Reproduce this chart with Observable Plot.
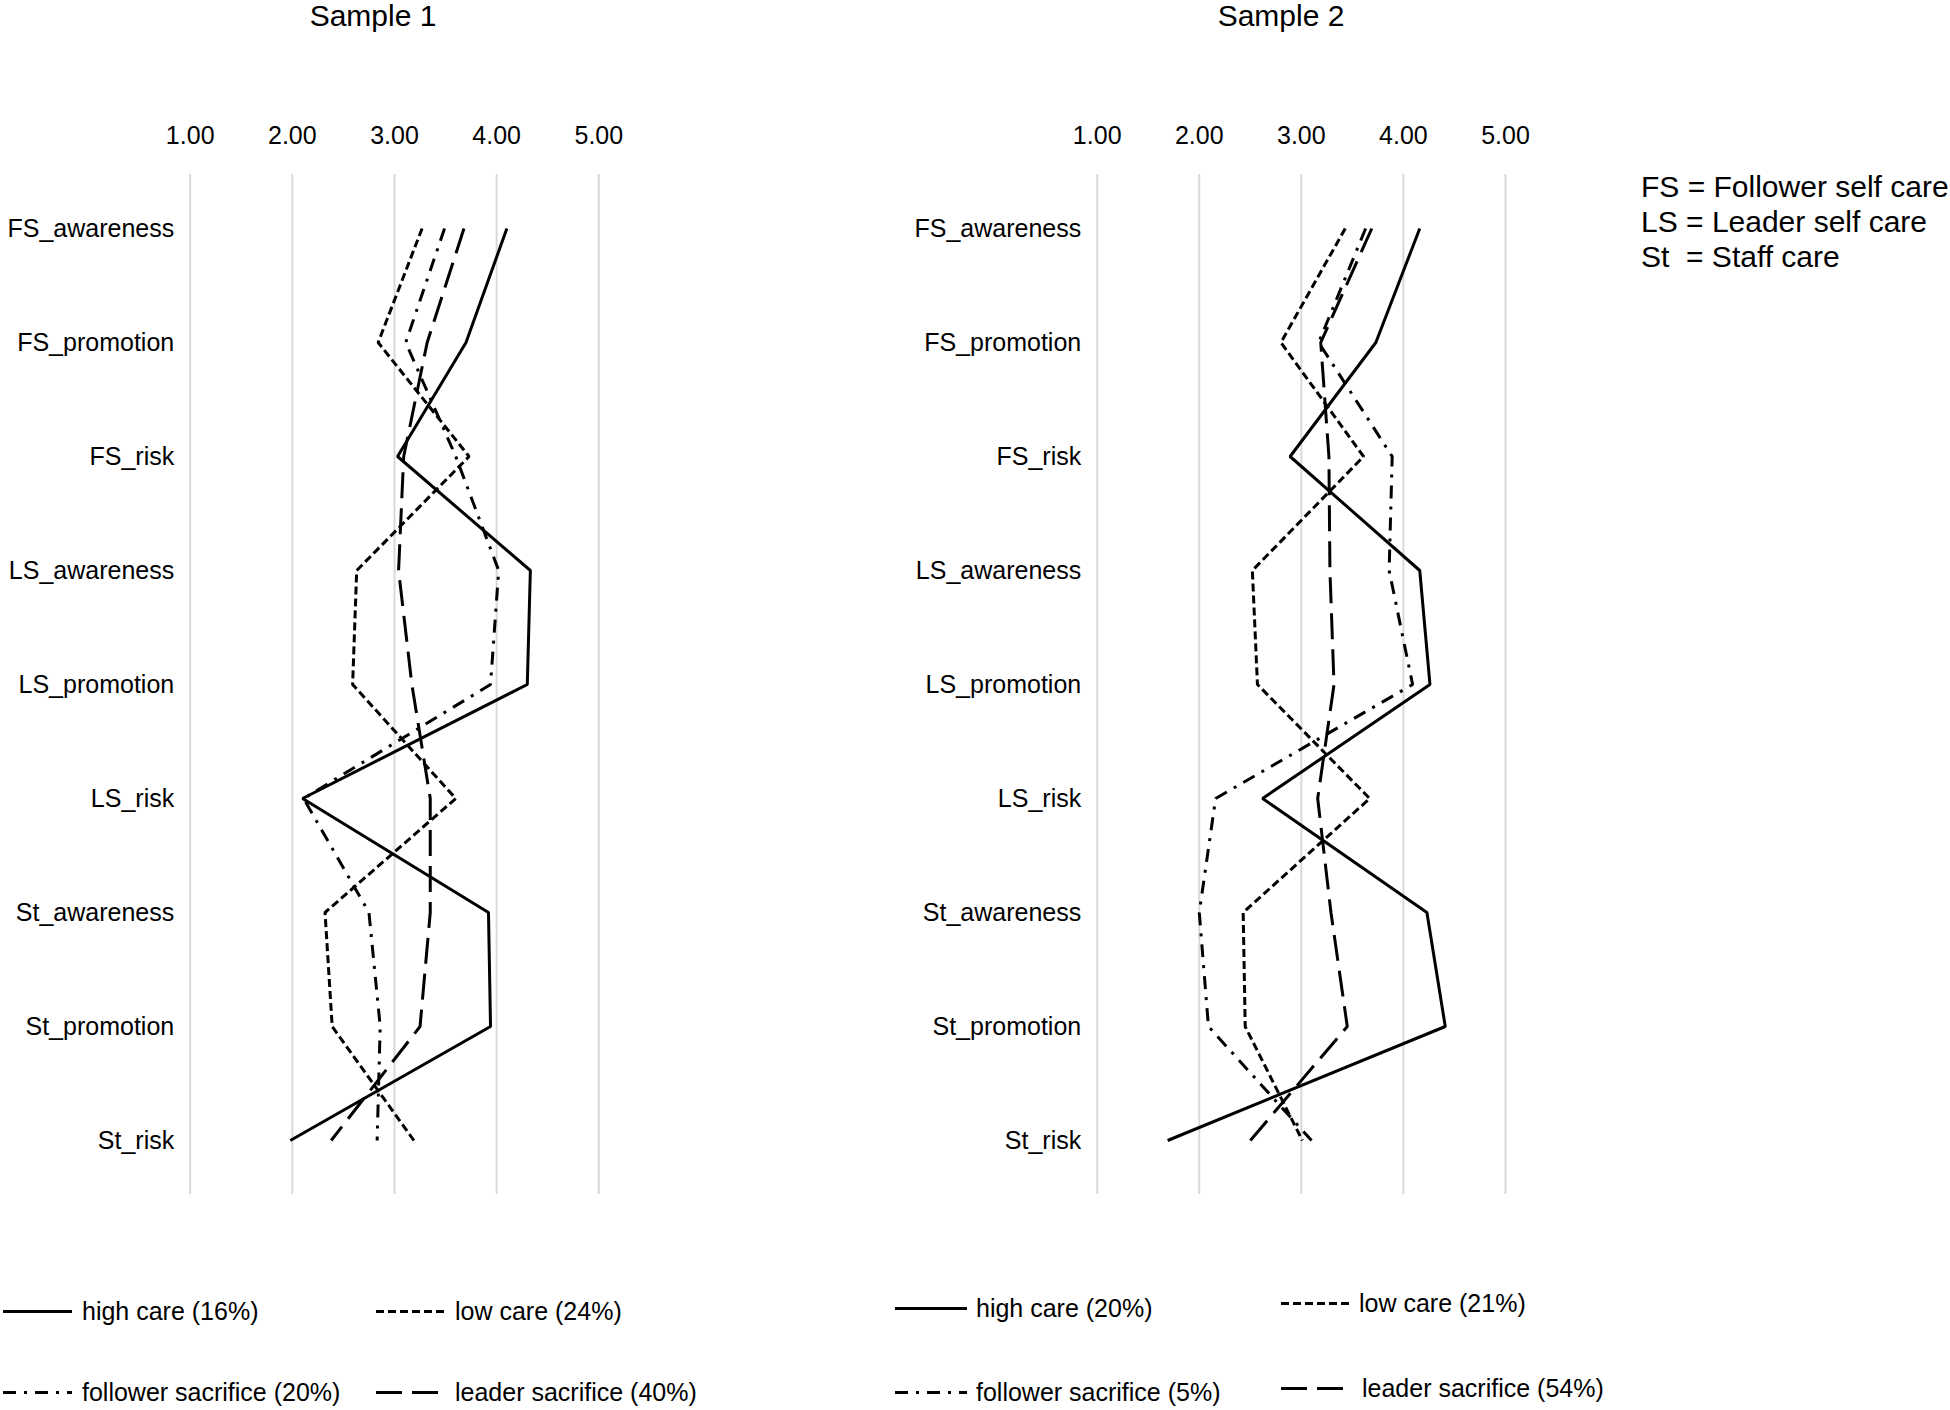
<!DOCTYPE html>
<html>
<head>
<meta charset="utf-8">
<script src="https://cdn.jsdelivr.net/npm/d3@7"></script>
<script src="https://cdn.jsdelivr.net/npm/@observablehq/plot@0.6"></script>
<style>
  body { margin: 0; background: #fff; font-family: "Liberation Sans", Arial, sans-serif; color: #000; }
  #root { position: relative; width: 1950px; height: 1410px; overflow: hidden; background: #fff; }
  .panel { position: absolute; top: 0; }
  .title { position: absolute; font-size: 30px; transform: translate(-50%, -50%); white-space: nowrap; }
  .leg { position: absolute; display: flex; align-items: center; font-size: 25px; white-space: nowrap; transform: translateY(-50%); }
  .leg svg { display: block; }
  .note { position: absolute; left: 1641px; top: 170px; font-size: 30px; line-height: 34.8px; white-space: pre; }
</style>
</head>
<body>
<div id="root"></div>
<script>
// ---------- data ----------
const categories = ["FS_awareness", "FS_promotion", "FS_risk", "LS_awareness", "LS_promotion", "LS_risk", "St_awareness", "St_promotion", "St_risk"];
const xTicks = [1, 2, 3, 4, 5];

const s1HighCare          = [4.10, 3.70, 3.03, 4.33, 4.30, 2.10, 3.92, 3.94, 1.98];
const s1LowCare           = [3.27, 2.84, 3.73, 2.63, 2.59, 3.60, 2.32, 2.39, 3.19];
const s1FollowerSacrifice = [3.49, 3.11, 3.60, 4.02, 3.94, 2.11, 2.75, 2.86, 2.83];
const s1LeaderSacrifice   = [3.68, 3.32, 3.09, 3.04, 3.17, 3.35, 3.35, 3.25, 2.38];

const s2HighCare          = [4.16, 3.73, 2.89, 4.16, 4.26, 2.62, 4.23, 4.41, 1.69];
const s2LowCare           = [3.43, 2.80, 3.61, 2.52, 2.57, 3.67, 2.43, 2.45, 3.01];
const s2FollowerSacrifice = [3.63, 3.17, 3.89, 3.86, 4.09, 2.16, 2.00, 2.09, 3.10];
const s2LeaderSacrifice   = [3.69, 3.19, 3.27, 3.28, 3.32, 3.16, 3.29, 3.45, 2.50];

const panelTitles = ["Sample 1", "Sample 2"];
const legend1 = ["high care (16%)", "low care (24%)", "follower sacrifice (20%)", "leader sacrifice (40%)"];
const legend2 = ["high care (20%)", "low care (21%)", "follower sacrifice (5%)", "leader sacrifice (54%)"];
const noteLines = ["FS = Follower self care", "LS = Leader self care", "St  = Staff care"];

// ---------- styles ----------
const dashes = [null, "8,4", "13,8,3,8", "26,10"];

const root = document.getElementById("root");

function makePanel(seriesValues, width, marginLeft, marginRight) {
  const marks = [
    Plot.ruleX(xTicks, {stroke: "#d9d9d9", strokeWidth: 2}),
    Plot.axisX(xTicks, {anchor: "top", tickSize: 0, tickPadding: 30.5, tickFormat: d3.format(".2f"), fontSize: 25, label: null}),
    Plot.axisY({anchor: "left", tickSize: 0, tickPadding: 16, fontSize: 25, label: null})
  ];
  seriesValues.forEach((vals, k) => {
    const data = categories.map((c, i) => ({cat: c, v: vals[i]}));
    const o = {x: "v", y: "cat", stroke: "#000", strokeWidth: 3, strokeLinecap: "butt", strokeLinejoin: "miter"};
    if (dashes[k]) o.strokeDasharray = dashes[k];
    marks.push(Plot.line(data, o));
  });
  return Plot.plot({
    width, height: 1210,
    marginLeft, marginRight, marginTop: 174, marginBottom: 16,
    x: {domain: [1, 5]},
    y: {type: "point", domain: categories, padding: 0.47},
    style: {fontFamily: "Liberation Sans, Arial, sans-serif", fontSize: "25px", color: "#000", background: "transparent", overflow: "visible"},
    marks
  });
}

const p1 = makePanel([s1HighCare, s1LowCare, s1FollowerSacrifice, s1LeaderSacrifice], 640, 189.7, 41.7);
p1.classList.add("panel"); p1.style.left = "0px";
root.appendChild(p1);

const p2 = makePanel([s2HighCare, s2LowCare, s2FollowerSacrifice, s2LeaderSacrifice], 700, 216.7, 75);
p2.classList.add("panel"); p2.style.left = "880px";
root.appendChild(p2);

// titles
[[panelTitles[0], 373], [panelTitles[1], 1281]].forEach(([t, x]) => {
  const d = document.createElement("div");
  d.className = "title"; d.textContent = t;
  d.style.left = x + "px"; d.style.top = "16px";
  root.appendChild(d);
});

// notes
const note = document.createElement("div");
note.className = "note"; note.textContent = noteLines.join("\n");
root.appendChild(note);

// legends
function legendItem(label, dashIdx, x0, x1, textX, y) {
  const d = document.createElement("div");
  d.className = "leg";
  d.style.left = x0 + "px"; d.style.top = y + "px";
  const w = x1 - x0;
  const svg = d3.create("svg").attr("width", w).attr("height", 10);
  const ln = svg.append("line").attr("x1", 0).attr("x2", w).attr("y1", 5).attr("y2", 5)
    .attr("stroke", "#000").attr("stroke-width", 3);
  if (dashes[dashIdx]) ln.attr("stroke-dasharray", dashes[dashIdx]);
  d.appendChild(svg.node());
  const s = document.createElement("span");
  s.textContent = label; s.style.marginLeft = (textX - x1) + "px";
  d.appendChild(s);
  root.appendChild(d);
}
legendItem(legend1[0], 0, 3, 72, 82, 1311);
legendItem(legend1[1], 1, 376, 445, 455, 1311);
legendItem(legend1[2], 2, 3, 72, 82, 1392);
legendItem(legend1[3], 3, 376, 445, 455, 1392);

legendItem(legend2[0], 0, 895, 967, 976, 1308);
legendItem(legend2[1], 1, 1281, 1353, 1359, 1303);
legendItem(legend2[2], 2, 895, 967, 976, 1392);
legendItem(legend2[3], 3, 1281, 1343, 1362, 1388);
</script>
</body>
</html>
